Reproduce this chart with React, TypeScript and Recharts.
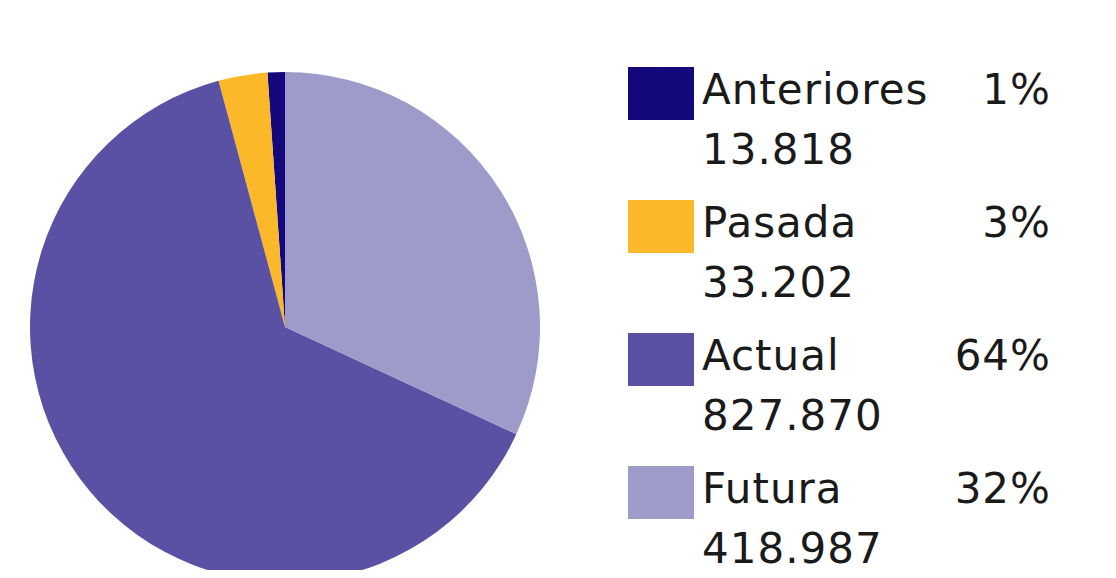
import { PieChart, Pie, Cell } from 'recharts';

const categories = ['Anteriores', 'Pasada', 'Actual', 'Futura'];
// slice shares as drawn in the picture (%)
const sliceShares = [1.1, 3.1, 63.9, 31.9];
const valueLabels = ['13.818', '33.202', '827.870', '418.987'];
const percentLabels = ['1%', '3%', '64%', '32%'];
const colors = ['#14097c', '#fbb829', '#5a50a4', '#9d9bca'];

const data = categories.map((name, i) => ({ name, value: sliceShares[i] }));

const textStyle = {
  position: 'absolute' as const,
  fontFamily: '"DejaVu Sans", sans-serif',
  fontSize: 42,
  letterSpacing: 1,
  color: '#1a1a1a',
  lineHeight: '42px',
  whiteSpace: 'nowrap' as const,
};

export default function App() {
  return (
    <div style={{ position: 'relative', width: 1116, height: 578, margin: -8, overflow: 'hidden', background: '#fff' }}>
      <PieChart width={1116} height={578} margin={{ top: 0, right: 0, bottom: 0, left: 0 }}>
        <Pie
          data={data}
          dataKey="value"
          cx={285}
          cy={327}
          outerRadius={255}
          startAngle={90}
          endAngle={450}
          stroke="none"
          isAnimationActive={false}
        >
          {data.map((d, i) => (
            <Cell key={d.name} fill={colors[i]} />
          ))}
        </Pie>
      </PieChart>
      {categories.map((name, i) => {
        const top = 67 + i * 133;
        return (
          <div key={name}>
            <div style={{ position: 'absolute', left: 628, top, width: 66, height: 53, background: colors[i] }} />
            <div style={{ ...textStyle, left: 702, top: top + 2 }}>{name}</div>
            <div style={{ ...textStyle, left: 702, top: top + 62 }}>{valueLabels[i]}</div>
            <div style={{ ...textStyle, right: 1116 - 1051, top: top + 2, textAlign: 'right' }}>{percentLabels[i]}</div>
          </div>
        );
      })}
    </div>
  );
}
